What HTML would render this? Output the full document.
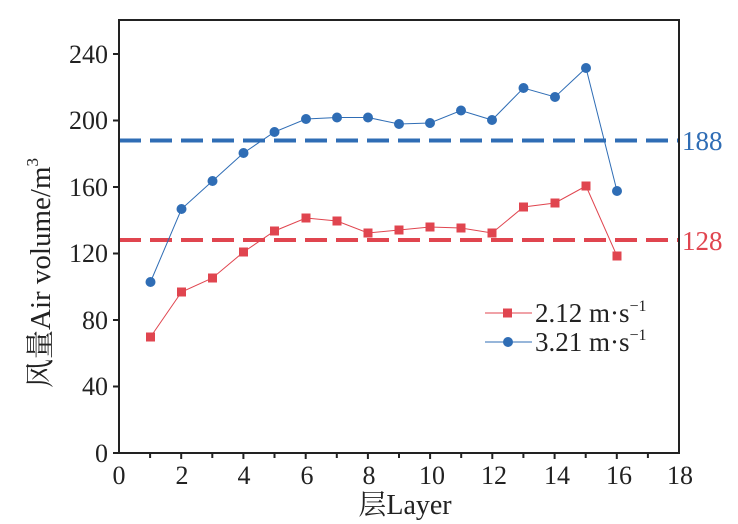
<!DOCTYPE html>
<html><head><meta charset="utf-8"><style>
html,body{margin:0;padding:0;background:#fff;}
svg{display:block;font-family:"Liberation Serif","Noto Serif CJK SC",serif;}
</style></head><body>
<svg width="738" height="524" viewBox="0 0 738 524" xmlns="http://www.w3.org/2000/svg">
<rect x="0" y="0" width="738" height="524" fill="#fff"/>
<line x1="119" y1="140.5" x2="679" y2="140.5" stroke="#2f6db5" stroke-width="4" stroke-dasharray="22,9"/>
<line x1="119" y1="240" x2="679" y2="240" stroke="#e0454f" stroke-width="4" stroke-dasharray="22,9"/>
<text x="682" y="150" font-size="27" fill="#2f6db5">188</text>
<text x="682" y="250" font-size="27" fill="#e0454f">128</text>
<polyline fill="none" stroke="#e0454f" stroke-width="1" points="150.5,337 181.5,292 212.5,278 243.5,252 274.5,231 306,218 337,221 368,233 399,230 430,227 461,228 492,233 523.5,207 555,203 586,186 617,256"/>
<polyline fill="none" stroke="#2f6db5" stroke-width="1" points="150.5,282 181.5,209 212.5,181 243.5,153 274.5,132 306,119 337,117.5 368,117.5 399,124 430,123 461,110.5 492,120 523.5,88 555,97 586,68 617,191"/>
<g fill="#e0454f">
<rect x="146" y="332.5" width="9" height="9"/><rect x="177" y="287.5" width="9" height="9"/><rect x="208" y="273.5" width="9" height="9"/><rect x="239" y="247.5" width="9" height="9"/><rect x="270" y="226.5" width="9" height="9"/><rect x="301.5" y="213.5" width="9" height="9"/><rect x="332.5" y="216.5" width="9" height="9"/><rect x="363.5" y="228.5" width="9" height="9"/><rect x="394.5" y="225.5" width="9" height="9"/><rect x="425.5" y="222.5" width="9" height="9"/><rect x="456.5" y="223.5" width="9" height="9"/><rect x="487.5" y="228.5" width="9" height="9"/><rect x="519" y="202.5" width="9" height="9"/><rect x="550.5" y="198.5" width="9" height="9"/><rect x="581.5" y="181.5" width="9" height="9"/><rect x="612.5" y="251.5" width="9" height="9"/>
</g>
<g fill="#2f6db5">
<circle cx="150.5" cy="282" r="5"/><circle cx="181.5" cy="209" r="5"/><circle cx="212.5" cy="181" r="5"/><circle cx="243.5" cy="153" r="5"/><circle cx="274.5" cy="132" r="5"/><circle cx="306" cy="119" r="5"/><circle cx="337" cy="117.5" r="5"/><circle cx="368" cy="117.5" r="5"/><circle cx="399" cy="124" r="5"/><circle cx="430" cy="123" r="5"/><circle cx="461" cy="110.5" r="5"/><circle cx="492" cy="120" r="5"/><circle cx="523.5" cy="88" r="5"/><circle cx="555" cy="97" r="5"/><circle cx="586" cy="68" r="5"/><circle cx="617" cy="191" r="5"/>
</g>
<rect x="119" y="20" width="560" height="433" fill="none" stroke="#222" stroke-width="2"/>
<g stroke="#222" stroke-width="2">
<line x1="119" y1="453" x2="113" y2="453"/><line x1="119" y1="386.5" x2="113" y2="386.5"/><line x1="119" y1="320" x2="113" y2="320"/><line x1="119" y1="253.5" x2="113" y2="253.5"/><line x1="119" y1="187" x2="113" y2="187"/><line x1="119" y1="120.5" x2="113" y2="120.5"/><line x1="119" y1="54" x2="113" y2="54"/>
<line x1="150.1" y1="453" x2="150.1" y2="458"/><line x1="181.2" y1="453" x2="181.2" y2="459"/><line x1="212.3" y1="453" x2="212.3" y2="458"/><line x1="243.4" y1="453" x2="243.4" y2="459"/><line x1="274.5" y1="453" x2="274.5" y2="458"/><line x1="305.7" y1="453" x2="305.7" y2="459"/><line x1="336.8" y1="453" x2="336.8" y2="458"/><line x1="367.9" y1="453" x2="367.9" y2="459"/><line x1="399" y1="453" x2="399" y2="458"/><line x1="430.1" y1="453" x2="430.1" y2="459"/><line x1="461.2" y1="453" x2="461.2" y2="458"/><line x1="492.3" y1="453" x2="492.3" y2="459"/><line x1="523.4" y1="453" x2="523.4" y2="458"/><line x1="554.6" y1="453" x2="554.6" y2="459"/><line x1="585.7" y1="453" x2="585.7" y2="458"/><line x1="616.8" y1="453" x2="616.8" y2="459"/><line x1="647.9" y1="453" x2="647.9" y2="458"/>
</g>
<g font-size="26" fill="#222" text-anchor="end">
<text x="108" y="462">0</text><text x="108" y="395">40</text><text x="108" y="329">80</text><text x="108" y="262">120</text><text x="108" y="196">160</text><text x="108" y="129">200</text><text x="108" y="63">240</text>
</g>
<g font-size="26" fill="#222" text-anchor="middle">
<text x="119" y="484">0</text><text x="182" y="484">2</text><text x="244" y="484">4</text><text x="307" y="484">6</text><text x="369" y="484">8</text><text x="432" y="484">10</text><text x="494" y="484">12</text><text x="557" y="484">14</text><text x="619" y="484">16</text><text x="680" y="484">18</text>
</g>
<text x="405" y="514" font-size="28" fill="#222" text-anchor="middle">层Layer</text>
<text transform="translate(50,273) rotate(-90)" font-size="29" fill="#222" text-anchor="middle">风量Air volume/m<tspan font-size="17" dy="-12">3</tspan></text>
<line x1="485" y1="313" x2="532" y2="313" stroke="#e0454f" stroke-width="1"/>
<rect x="503" y="308.5" width="9" height="9" fill="#e0454f"/>
<text x="535" y="322" font-size="27" fill="#222">2.12 m·s<tspan font-size="16" dy="-11">−1</tspan></text>
<line x1="485" y1="342" x2="532" y2="342" stroke="#2f6db5" stroke-width="1"/>
<circle cx="508" cy="342" r="5" fill="#2f6db5"/>
<text x="535" y="351" font-size="27" fill="#222">3.21 m·s<tspan font-size="16" dy="-11">−1</tspan></text>
</svg>
</body></html>
